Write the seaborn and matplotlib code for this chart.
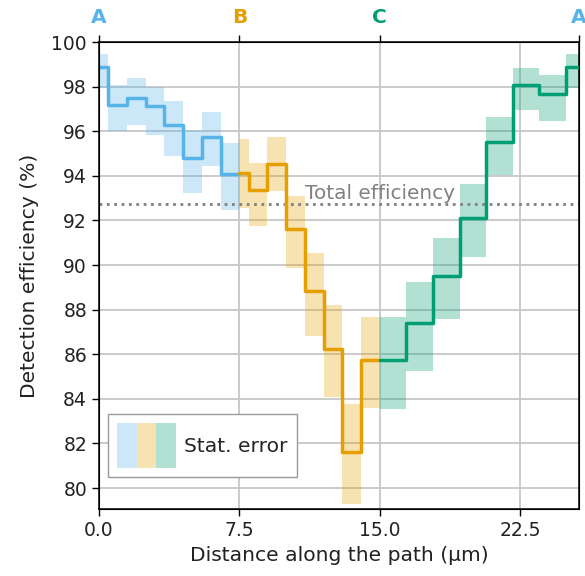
import matplotlib
matplotlib.use("Agg")
import matplotlib.pyplot as plt
from matplotlib.patches import Patch
from matplotlib.legend_handler import HandlerTuple
import numpy as np
import pandas as pd
import seaborn as sns

# ---- data ----
segments = ["A-B", "B-C", "C-A"]
colors = ["#56B4E9", "#E69F00", "#009E73"]

edges_ab = [0.0, 0.5, 1.5, 2.5, 3.5, 4.5, 5.5, 6.5, 7.5]
eff_ab = [98.90, 97.18, 97.51, 97.11, 96.29, 94.80, 95.76, 94.09]
lo_ab = [97.93, 95.99, 96.29, 95.84, 94.90, 93.23, 94.42, 92.48]
hi_ab = [99.46, 98.08, 98.37, 98.00, 97.37, 96.06, 96.88, 95.47]

edges_bc = [7.5, 8.0, 9.0, 10.0, 11.0, 12.0, 13.0, 14.0, 15.0]
eff_bc = [94.12, 93.35, 94.54, 91.63, 88.83, 86.25, 81.62, 85.74]
lo_bc = [92.57, 91.74, 93.32, 89.87, 86.82, 84.10, 79.28, 83.57]
hi_bc = [95.66, 94.57, 95.76, 93.08, 90.55, 88.19, 83.76, 87.68]

edges_ca = [15.0, 16.42, 17.84, 19.26, 20.68, 22.10, 23.52, 24.94, 25.65]
eff_ca = [85.73, 87.38, 89.50, 92.11, 95.50, 98.08, 97.67, 98.90]
lo_ca = [83.53, 85.25, 87.56, 90.37, 94.05, 96.96, 96.48, 97.93]
hi_ca = [87.68, 89.23, 91.22, 93.65, 96.66, 98.82, 98.52, 99.46]

total_eff = 92.75
corner_pos = [0.0, 7.5, 15.0, 25.65]
corner_labels = ["A", "B", "C", "A"]
corner_colors = ["#56B4E9", "#E69F00", "#009E73", "#56B4E9"]
xticks = [0.0, 7.5, 15.0, 22.5]
yticks = list(range(80, 101, 2))

# ---- build tables ----
all_edges = [edges_ab, edges_bc, edges_ca]
all_eff = [eff_ab, eff_bc, eff_ca]
all_lo = [lo_ab, lo_bc, lo_ca]
all_hi = [hi_ab, hi_bc, hi_ca]

rows = []
for seg, e, v in zip(segments, all_edges, all_eff):
    vv = list(v) + [v[-1]]
    for xx, yy in zip(e, vv):
        rows.append({"segment": seg, "x": xx, "y": yy})
df = pd.DataFrame(rows)

# ---- style ----
sns.set_style("ticks")
plt.rcParams["font.family"] = ["DejaVu Sans"]
plt.rcParams["axes.edgecolor"] = "black"
plt.rcParams["xtick.color"] = "black"
plt.rcParams["ytick.color"] = "black"

fig = plt.figure(figsize=(5.85, 5.76), dpi=100)
ax = fig.add_axes([0.169, 0.116, 0.821, 0.811])

# grid
ax.set_axisbelow(True)
ax.grid(True, color="0.78", lw=1.3, zorder=0)

# bands
for e, lo, hi, c in zip(all_edges, all_lo, all_hi, colors):
    ax.fill_between(e, list(lo) + [lo[-1]], list(hi) + [hi[-1]], step="post",
                    color=c, alpha=0.3, lw=0, zorder=1)

# step lines
sns.lineplot(data=df, x="x", y="y", hue="segment", palette=colors,
             estimator=None, sort=False, drawstyle="steps-post",
             lw=2.5, legend=False, ax=ax, zorder=3)

# total efficiency
ax.axhline(total_eff, color="0.5", ls=":", lw=2, zorder=2)
ax.text(15.0, total_eff + 0.02, "Total efficiency", color="0.5",
        ha="center", va="bottom", fontsize=14.4, zorder=4)

ax.set_xlim(0, 25.65)
ax.set_ylim(79.05, 100)
ax.set_xticks(xticks)
ax.set_xticklabels([f"{t:.1f}" for t in xticks])
ax.set_yticks(yticks)
ax.tick_params(labelsize=13.5, length=5, width=1, labelcolor="#222222")
ax.set_xlabel("Distance along the path (µm)", fontsize=14.6, labelpad=4, color="#222222")
ax.set_ylabel("Detection efficiency (%)", fontsize=14.6, labelpad=9, color="#222222")
for sp in ax.spines.values():
    sp.set_visible(True)
    sp.set_linewidth(1.1)

# top corner labels
ax2 = ax.twiny()
ax2.set_xlim(ax.get_xlim())
ax2.set_xticks(corner_pos)
ax2.set_xticklabels(corner_labels, fontweight="bold", fontsize=14.5)
for lab, c in zip(ax2.get_xticklabels(), corner_colors):
    lab.set_color(c)
ax2.tick_params(axis="x", length=5, width=1, pad=6)

# legend
handle = tuple(Patch(facecolor=c, alpha=0.3, lw=0) for c in colors)
leg = ax.legend([handle], ["Stat. error"], handler_map={tuple: HandlerTuple(ndivide=None, pad=0)},
                loc="lower left", bbox_to_anchor=(0.019, 0.0685), borderaxespad=0,
                fontsize=14.6, handlelength=2.9, handleheight=2.3 * 46 / 35,
                fancybox=False, edgecolor="0.6", framealpha=1,
                borderpad=0.45, handletextpad=0.4)

fig.savefig("out.png", dpi=100)
